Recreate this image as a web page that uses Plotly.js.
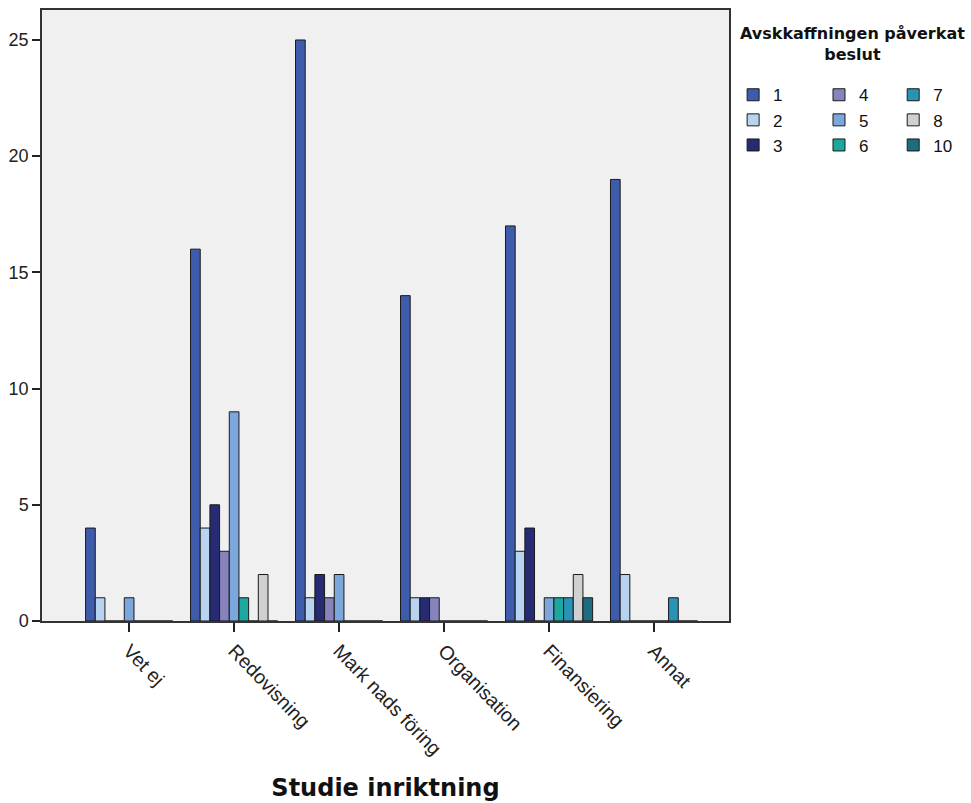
<!DOCTYPE html>
<html>
<head>
<meta charset="utf-8">
<script src="https://cdn.plot.ly/plotly-3.0.1.min.js"></script>
<style>html,body{margin:0;padding:0;background:#fff;}#chart{width:971px;height:803px;}</style>
</head>
<body>
<div id="chart"></div>
<script>
const categories = ["Vet ej", "Redovisning", "Mark nads föring", "Organisation", "Finansiering", "Annat"];
const seriesNames = ["1", "2", "3", "4", "5", "6", "7", "8", "10"];
const s1  = [4, 16, 25, 14, 17, 19];
const s2  = [1, 4, 1, 1, 3, 2];
const s3  = [0, 5, 2, 1, 4, 0];
const s4  = [0, 3, 1, 1, 0, 0];
const s5  = [1, 9, 2, 0, 1, 0];
const s6  = [0, 1, 0, 0, 1, 0];
const s7  = [0, 0, 0, 0, 1, 1];
const s8  = [0, 2, 0, 0, 2, 0];
const s10 = [0, 0, 0, 0, 1, 0];
const seriesValues = [s1, s2, s3, s4, s5, s6, s7, s8, s10];
const colors = ["#3f5bab", "#b7d3f0", "#262b73", "#8784bd", "#7ba7dc", "#1ca89f", "#2a92b5", "#d0d0d0", "#1e6c80"];
const legendOf = ["legend", "legend", "legend", "legend2", "legend2", "legend2", "legend3", "legend3", "legend3"];

const traces = seriesNames.map((name, i) => ({
  type: "bar",
  name: name,
  x: categories,
  y: seriesValues[i],
  legend: legendOf[i],
  marker: {color: colors[i], line: {color: "#1a1a1a", width: 1}},
  hoverinfo: "x+y+name"
}));

const legendCommon = {
  font: {family: "Liberation Sans, Arial, sans-serif", size: 17, color: "#111"},
  bgcolor: "rgba(0,0,0,0)",
  borderwidth: 0,
  xanchor: "left",
  yanchor: "top",
  y: 0.89,
  tracegroupgap: 0,
  itemclick: false
};

const layout = {
  width: 971,
  height: 803,
  margin: {l: 42, r: 242, t: 10, b: 182},
  paper_bgcolor: "#ffffff",
  plot_bgcolor: "#f0f0f0",
  barmode: "group",
  bargap: 0.17,
  bargroupgap: 0,
  showlegend: true,
  legend: Object.assign({}, legendCommon, {x: 1.006}),
  legend2: Object.assign({}, legendCommon, {x: 1.131}),
  legend3: Object.assign({}, legendCommon, {x: 1.239}),
  xaxis: {
    type: "category",
    range: [-0.83, 5.714],
    showline: true, linecolor: "#333", linewidth: 1.5, mirror: true,
    ticks: "outside", ticklen: 9, tickcolor: "#222", tickwidth: 1.5,
    tickangle: 46,
    tickfont: {family: "Liberation Sans, Arial, sans-serif", size: 19.5, color: "#222"},
    showgrid: false, zeroline: false,
    title: {text: "Studie inriktning", font: {family: "DejaVu Sans, sans-serif", size: 24, color: "#111", weight: "bold"}, standoff: 21}
  },
  yaxis: {
    range: [0, 26.29],
    tickvals: [0, 5, 10, 15, 20, 25],
    showline: true, linecolor: "#333", linewidth: 1.5, mirror: true,
    ticks: "outside", ticklen: 8, tickcolor: "#222", tickwidth: 1.5,
    tickfont: {family: "Liberation Sans, Arial, sans-serif", size: 18, color: "#222"},
    showgrid: false, zeroline: false
  },
  annotations: [{
    xref: "paper", yref: "paper",
    x: 1.18, y: 0.98, xanchor: "center", yanchor: "top",
    text: "Avskkaffningen påverkat<br>beslut",
    showarrow: false,
    font: {family: "DejaVu Sans, sans-serif", size: 16, color: "#111", weight: "bold"}
  }]
};

Plotly.newPlot("chart", traces, layout, {displayModeBar: false});
</script>
</body>
</html>
